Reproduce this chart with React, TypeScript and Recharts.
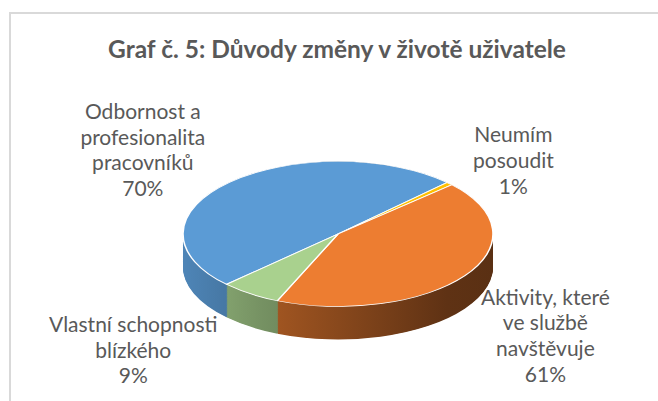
import React from 'react';
import { PieChart, Pie, Cell } from 'recharts';

// share of respondents (%), one answer could be picked several times
const categories = [
  'Odbornost a\nprofesionalita\npracovníků',
  'Neumím\nposoudit',
  'Aktivity, které\nve službě\nnavštěvuje',
  'Vlastní schopnosti\nblízkého',
];
const values = [70, 1, 61, 9];
const topColors = ['#5B9BD5', '#FFC000', '#ED7D31', '#A9D18E'];

const data = categories.map((name, i) => ({ name, value: values[i] }));

// geometry of the tilted pie
const W = 658;
const H = 401;
const CX = 338;
const CY = 234;
const RX = 155;
const RY = 72.5;
const TILT = RY / RX;
const DEPTH = 33;
const START = 224;
const END = START - 360;

const LINE_H = 25.7;
const LABEL_K = 1.25;
// Excel "best fit" pushes each label a bit further out
const LABEL_NUDGE: [number, number][] = [
  [-59, -12],
  [36, -3],
  [49, 24],
  [-95, 16],
];

const sideLayers: number[] = [];
for (let d = DEPTH / TILT; d > 0; d -= 1.5) sideLayers.push(d);

const shade = (hex: string, f: number) => {
  const n = parseInt(hex.slice(1), 16);
  const c = [(n >> 16) & 255, (n >> 8) & 255, n & 255].map((v) => Math.round(v * f));
  return `rgb(${c[0]},${c[1]},${c[2]})`;
};
const sideStops: [number, number][] = [
  [0, 0.86],
  [0.25, 0.7],
  [0.85, 0.4],
  [1, 0.38],
];

const font = 'Lato, "Open Sans", sans-serif';

const renderLabel = (props: any) => {
  const { cx, cy, midAngle, index } = props;
  const rad = Math.PI / 180;
  const cos = Math.cos(-midAngle * rad);
  const sin = Math.sin(-midAngle * rad);
  const [nx, ny] = LABEL_NUDGE[index];
  const x = cx + RX * LABEL_K * cos + nx;
  const midY = cy + RY * LABEL_K * sin + (sin > 0 ? DEPTH : 0) + ny;
  const lines = [...categories[index].split('\n'), `${values[index]}%`];
  const y0 = midY - ((lines.length - 1) * LINE_H) / 2;
  return (
    <text key={`lbl-${index}`} x={x} y={y0} textAnchor="middle" fill="#595959" fontSize={21} fontFamily={font}>
      {lines.map((l, i) => (
        <tspan key={i} x={x} y={y0 + i * LINE_H}>
          {l}
        </tspan>
      ))}
    </text>
  );
};

export default function App() {
  return (
    <div style={{ position: 'fixed', left: 0, top: 0, width: W, height: H, background: '#fff', overflow: 'hidden' }}>
      <div
        style={{
          position: 'absolute',
          left: 9,
          top: 12,
          width: 800,
          height: 600,
          border: '2px solid #D9D9D9',
        }}
      />
      <div
        style={{
          position: 'absolute',
          left: 0,
          top: 36,
          width: 674,
          textAlign: 'center',
          fontFamily: font,
          fontWeight: 700,
          fontSize: 24.5,
          lineHeight: '25px',
          color: '#595959',
        }}
      >
        Graf č. 5: Důvody změny v životě uživatele
      </div>

      <div
        style={{
          position: 'absolute',
          left: 0,
          top: 0,
          transform: `scaleY(${TILT})`,
          transformOrigin: `0 ${CY}px`,
        }}
      >
        <PieChart width={W} height={CY + DEPTH / TILT + RX + 10} margin={{ top: 0, right: 0, bottom: 0, left: 0 }}>
          <defs>
            {topColors.map((c, i) => (
              <linearGradient key={i} id={`side-${i}`} gradientUnits="userSpaceOnUse" x1={CX - RX} x2={CX + RX} y1={0} y2={0}>
                {sideStops.map(([o, f]) => (
                  <stop key={o} offset={o} stopColor={shade(c, f)} />
                ))}
              </linearGradient>
            ))}
          </defs>
          {sideLayers.map((d) => (
            <Pie
              key={`side-${d}`}
              data={data}
              dataKey="value"
              cx={CX}
              cy={CY + d}
              outerRadius={RX}
              startAngle={START}
              endAngle={END}
              stroke="none"
              isAnimationActive={false}
            >
              {data.map((_, i) => (
                <Cell key={i} fill={`url(#side-${i})`} />
              ))}
            </Pie>
          ))}
          <Pie
            data={data}
            dataKey="value"
            cx={CX}
            cy={CY}
            outerRadius={RX}
            startAngle={START}
            endAngle={END}
            stroke="#fff"
            strokeWidth={1.6}
            isAnimationActive={false}
          >
            {data.map((_, i) => (
              <Cell key={i} fill={topColors[i]} />
            ))}
          </Pie>
        </PieChart>
      </div>

      <div style={{ position: 'absolute', left: 0, top: 0 }}>
        <PieChart width={W} height={H} margin={{ top: 0, right: 0, bottom: 0, left: 0 }}>
          <Pie
            data={data}
            dataKey="value"
            cx={CX}
            cy={CY}
            outerRadius={RX}
            startAngle={START}
            endAngle={END}
            fill="none"
            stroke="none"
            label={renderLabel}
            labelLine={false}
            isAnimationActive={false}
          />
        </PieChart>
      </div>
    </div>
  );
}
